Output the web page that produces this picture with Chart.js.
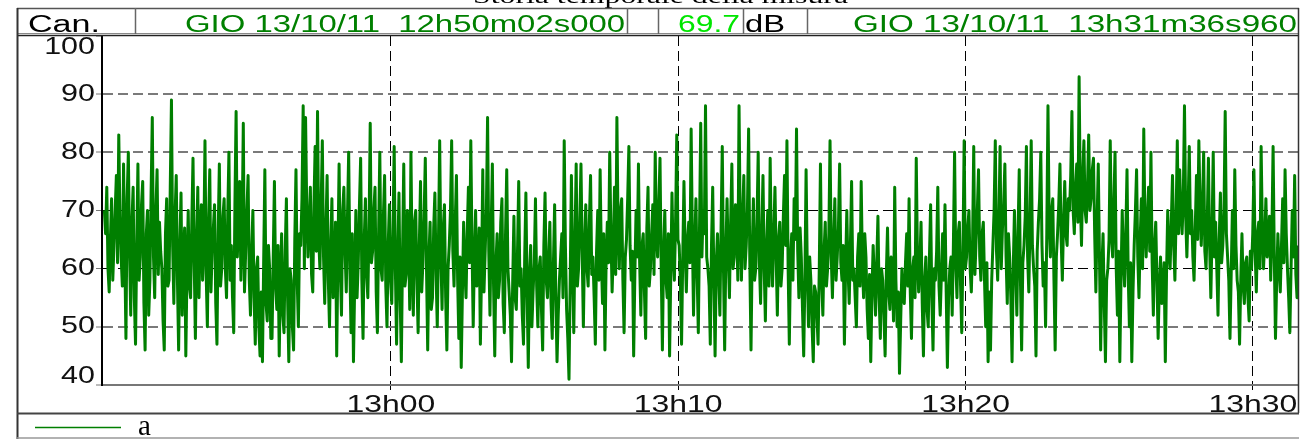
<!DOCTYPE html>
<html>
<head>
<meta charset="utf-8">
<script src="https://cdn.jsdelivr.net/npm/chart.js@4.4.1/dist/chart.umd.min.js"></script>
<style>
html,body{margin:0;padding:0;background:#fff;}
#wrap{width:1300px;height:439px;position:relative;background:#fff;}
canvas{display:block;}
</style>
</head>
<body>
<div id="wrap"><canvas id="c" width="1300" height="439"></canvas></div>
<script>
// ---- text content ----
const chartTitle = "Storia temporale della misura";
const channelLabel = "Can.";
const startStamp = "GIO 13/10/11  12h50m02s000";
const endStamp = "GIO 13/10/11  13h31m36s960";
const leqValue = "69.7";
const leqUnit = "dB";
const seriesName = "a";

// ---- data: sound level (dB) read every 2.5 s from 12h50m02s ----
const sampleStepSeconds = 2.5;
const levelsDb = [
  70,66,74,60,56,65,72,58,64,70,76,61,83,69,62,57,78,63,48,72,
  80,63,52,68,74,55,47,64,78,58,62,71,75,54,46,66,70,52,58,73,
  86,62,55,70,77,59,68,63,60,51,46,66,72,57,58,74,89,64,54,69,
  76,58,46,64,73,52,62,67,45,60,70,57,55,68,79,61,48,65,74,55,
  66,71,58,64,82,59,50,68,77,56,63,67,71,54,47,66,78,57,60,69,
  72,60,55,69,80,58,64,55,49,71,87,62,68,75,58,66,85,56,63,70,
  76,58,52,63,70,55,47,60,62,50,45,56,44,61,77,54,51,64,60,48,
  48,62,75,57,53,64,45,58,66,52,49,63,72,55,44,60,58,50,46,65,
  77,58,50,66,64,72,88,60,86,70,62,68,74,59,56,71,81,63,87,65,
  60,71,82,62,54,67,76,58,50,64,72,55,58,68,45,62,78,60,52,70,
  74,63,56,69,80,60,49,66,44,57,70,55,61,71,79,58,48,65,72,59,
  55,67,85,61,63,70,74,56,49,66,80,60,58,69,76,57,50,64,71,58,
  54,66,81,60,47,62,73,55,44,63,78,57,59,70,66,53,80,61,52,68,
  70,58,49,64,75,56,61,69,79,60,46,62,68,53,55,67,73,59,50,65,
  82,62,53,67,71,55,46,60,64,70,82,63,57,68,76,58,48,62,43,56,
  68,60,55,66,74,61,82,64,50,62,70,57,59,67,47,60,77,56,63,70,
  86,63,52,67,78,57,45,61,66,55,58,68,72,54,49,66,77,60,56,52,
  44,58,69,55,53,63,75,57,60,52,47,62,73,56,43,59,64,50,56,61,
  72,57,50,60,62,53,46,64,73,58,55,62,68,54,48,61,71,55,44,52,
  58,62,66,55,82,64,53,48,41,58,76,60,49,65,78,57,60,68,78,63,
  50,64,71,60,57,68,76,59,62,55,47,63,70,58,77,62,54,66,46,61,
  68,61,80,66,56,63,74,59,86,67,60,70,72,58,49,62,65,72,81,64,
  58,63,45,59,70,62,78,61,52,64,66,56,48,67,74,57,60,66,71,59,
  80,66,62,71,79,60,46,63,70,58,55,66,45,59,73,62,58,68,83,65,
  64,58,47,62,75,63,56,65,68,61,84,66,52,64,72,59,49,67,85,62,
  70,66,88,62,60,57,47,64,74,58,45,61,66,59,52,67,81,60,46,63,
  72,62,55,68,78,60,62,71,68,58,88,67,58,69,76,60,64,70,84,61,
  46,63,72,58,60,68,80,61,54,66,76,60,51,64,70,57,79,63,57,66,
  74,62,52,65,68,57,60,69,76,64,82,60,47,62,66,58,72,65,84,63,
  55,67,62,53,45,58,77,60,50,62,58,50,44,57,56,52,47,60,78,58,
  52,63,68,57,60,66,82,62,55,65,72,58,62,67,78,61,58,64,47,60,
  70,60,54,64,75,58,60,55,50,62,66,57,75,61,55,66,62,53,48,59,
  44,56,64,58,52,61,69,55,48,60,58,52,45,59,67,56,53,62,60,51,
  74,58,50,56,42,51,60,55,54,61,66,57,72,56,48,60,62,55,79,62,
  56,61,68,54,45,58,62,53,50,62,71,55,46,60,58,63,74,57,52,59,
  66,58,71,56,43,55,60,62,52,64,80,61,55,66,68,57,49,63,82,60,
  62,67,70,60,56,64,81,59,65,70,77,62,58,66,68,58,50,61,44,56,
  46,58,64,70,82,63,58,68,81,60,67,71,78,62,54,66,62,55,44,60,
  70,60,52,66,77,58,46,61,64,69,81,62,56,68,82,64,60,57,45,63,
  68,72,80,64,57,61,50,66,88,68,62,70,72,58,46,62,66,71,78,65,
  58,68,75,66,64,72,70,76,87,70,66,74,78,68,93,72,64,76,82,70,
  68,74,83,70,72,77,79,66,56,68,78,62,46,60,66,54,44,58,60,65,
  82,66,62,71,80,60,52,63,44,58,70,62,57,66,77,59,50,61,44,56,
  64,70,77,62,55,65,72,60,84,67,62,69,74,63,80,61,52,64,68,58,
  48,57,62,54,56,61,44,59,70,63,60,68,76,64,58,69,82,66,77,70,
  66,72,88,69,62,70,81,66,70,62,58,67,76,65,82,71,64,70,80,63,
  60,68,79,64,55,66,80,62,68,60,52,65,73,61,64,70,87,66,62,58,
  48,59,70,60,77,64,58,56,47,58,66,57,54,61,62,55,51,63,60,66,
  77,63,56,66,68,60,81,67,60,65,72,62,64,69,58,66,81,62,48,58,
  66,60,56,64,72,61,77,66,60,55,49,60,70,62,76,59,55,64,62,57
];

// ---- axes ----
const xTickSeconds = [598, 1198, 1798, 2398];          // 13h00, 13h10, 13h20, 13h30 relative to 12h50m02s
const xTickLabels = ["13h00", "13h10", "13h20", "13h30"];
const yTickValues = [40, 50, 60, 70, 80, 90, 100];
const yBlackGrid = [60, 70];

const points = levelsDb.map((v, i) => ({ x: i * sampleStepSeconds, y: v }));

// horizontally stretched label text (the original uses a wide rendering)
function stretchLabels(scale, sx) {
  if (!scale || scale._stretched) return;
  scale._stretched = true;
  const orig = scale.drawLabels.bind(scale);
  scale.drawLabels = function (area) {
    const ctx = this.ctx;
    const of = CanvasRenderingContext2D.prototype.fillText;
    ctx.fillText = function (t, x, y) {
      this.save();
      this.translate(x, y);
      this.scale(sx, 1);
      of.call(this, t, 0, 0);
      this.restore();
    };
    try { orig(area); } finally { delete ctx.fillText; }
  };
}

function fitText(ctx, text, font, x0, x1, baseline, color) {
  ctx.save();
  ctx.font = font;
  ctx.textAlign = 'left';
  ctx.textBaseline = 'alphabetic';
  const w = ctx.measureText(text).width;
  const sx = (x1 - x0) / w;
  ctx.translate(x0, baseline);
  ctx.scale(sx, 1);
  ctx.fillStyle = color;
  ctx.fillText(text, 0, 0);
  ctx.restore();
}

function line(ctx, x1, y1, x2, y2, color, w) {
  ctx.beginPath();
  ctx.strokeStyle = color;
  ctx.lineWidth = w;
  ctx.moveTo(x1, y1);
  ctx.lineTo(x2, y2);
  ctx.stroke();
}

const framePlugin = {
  id: 'frame',
  afterLayout(chart) {
    stretchLabels(chart.scales.x, 1.33);
    stretchLabels(chart.scales.y, 1.27);
  },
  afterDraw(chart) {
    const ctx = chart.ctx;
    ctx.save();
    // title (mostly hidden above the header)
    fitText(ctx, chartTitle, '22px "Liberation Serif"', 473, 848, 3, '#000');

    // header row
    const hf = '23px "Liberation Sans"';
    line(ctx, 17, 8.5, 1299, 8.5, '#555', 1.5);
    line(ctx, 17, 33.5, 1299, 33.5, '#888', 1);
    line(ctx, 17, 35.5, 1299, 35.5, '#222', 1.5);
    [135, 627, 658, 743, 807].forEach(x => line(ctx, x + 0.5, 8, x + 0.5, 34, '#666', 1.5));
    fitText(ctx, channelLabel, hf, 28, 100, 31.5, '#000');
    fitText(ctx, startStamp, hf, 185, 625, 31.5, '#008000');
    fitText(ctx, leqValue, hf, 678, 740, 31.5, '#00e600');
    fitText(ctx, leqUnit, hf, 745, 785, 31.5, '#000');
    fitText(ctx, endStamp, hf, 853, 1297, 31.5, '#008000');

    // outer frame
    line(ctx, 17.5, 8, 17.5, 439, '#333', 2);
    line(ctx, 1298.5, 8, 1298.5, 413, '#333', 1.5);
    line(ctx, 17, 413.5, 1299, 413.5, '#444', 2);
    line(ctx, 17, 438, 1299, 438, '#999', 1.5);

    // legend
    const ds = chart.data.datasets[0];
    line(ctx, 35, 427.5, 121, 427.5, ds.borderColor, 1.5);
    ctx.font = '29px "Liberation Serif"';
    ctx.fillStyle = '#000';
    ctx.textAlign = 'left';
    ctx.textBaseline = 'alphabetic';
    ctx.fillText(ds.label, 138, 435);
    ctx.restore();
  }
};

new Chart(document.getElementById('c'), {
  type: 'line',
  data: {
    datasets: [{
      label: seriesName,
      data: points,
      borderColor: '#007f00',
      borderWidth: 3,
      pointRadius: 0,
      tension: 0,
      borderJoinStyle: 'round',
      fill: false
    }]
  },
  options: {
    responsive: false,
    animation: false,
    events: [],
    layout: { padding: { top: 36, left: 0, right: 2, bottom: 26 } },
    plugins: { legend: { display: false }, title: { display: false }, tooltip: { enabled: false } },
    scales: {
      x: {
        type: 'linear', min: -5, max: 2492, z: 1,
        afterBuildTicks: (s) => { s.ticks = xTickSeconds.map(v => ({ value: v })); },
        afterFit: (s) => { s.height = 28; },
        ticks: {
          autoSkip: false, maxRotation: 0, minRotation: 0, padding: 1, color: '#111',
          font: { family: 'Liberation Sans', size: 24 },
          callback: (v) => { const k = xTickSeconds.indexOf(v); return k < 0 ? '' : xTickLabels[k]; }
        },
        grid: { color: '#000', lineWidth: 1, drawTicks: true, tickLength: 5, tickColor: '#000', tickWidth: 1 },
        border: { display: true, color: '#777', width: 2, dash: [10, 5] }
      },
      y: {
        min: 40, max: 100, z: 1,
        afterBuildTicks: (s) => { s.ticks = yTickValues.map(v => ({ value: v })); },
        afterFit: (s) => { s.width = 102; },
        ticks: {
          padding: 1, color: '#111',
          font: (c) => ({
            family: 'Liberation Sans', size: 24,
            lineHeight: (c.tick && c.tick.value === 100) ? '22px' : ((c.tick && c.tick.value === 40) ? '17px' : 1.2)
          }),
          callback: (v) => v === 100 ? ['', '100'] : (v === 40 ? ['40', ''] : String(v))
        },
        grid: {
          color: (c) => {
            if (!c.tick) return '#7a7a7a';
            const v = c.tick.value;
            if (v === 100 || v === 40) return 'rgba(0,0,0,0)';
            return yBlackGrid.includes(v) ? '#000' : '#7a7a7a';
          },
          lineWidth: (c) => (c.tick && yBlackGrid.includes(c.tick.value)) ? 1 : 2,
          drawTicks: true, tickLength: 6, tickColor: '#777', tickWidth: 1
        },
        border: { display: true, color: '#000', width: 2, dash: [10, 5] }
      }
    }
  },
  plugins: [framePlugin]
});
</script>
</body>
</html>
